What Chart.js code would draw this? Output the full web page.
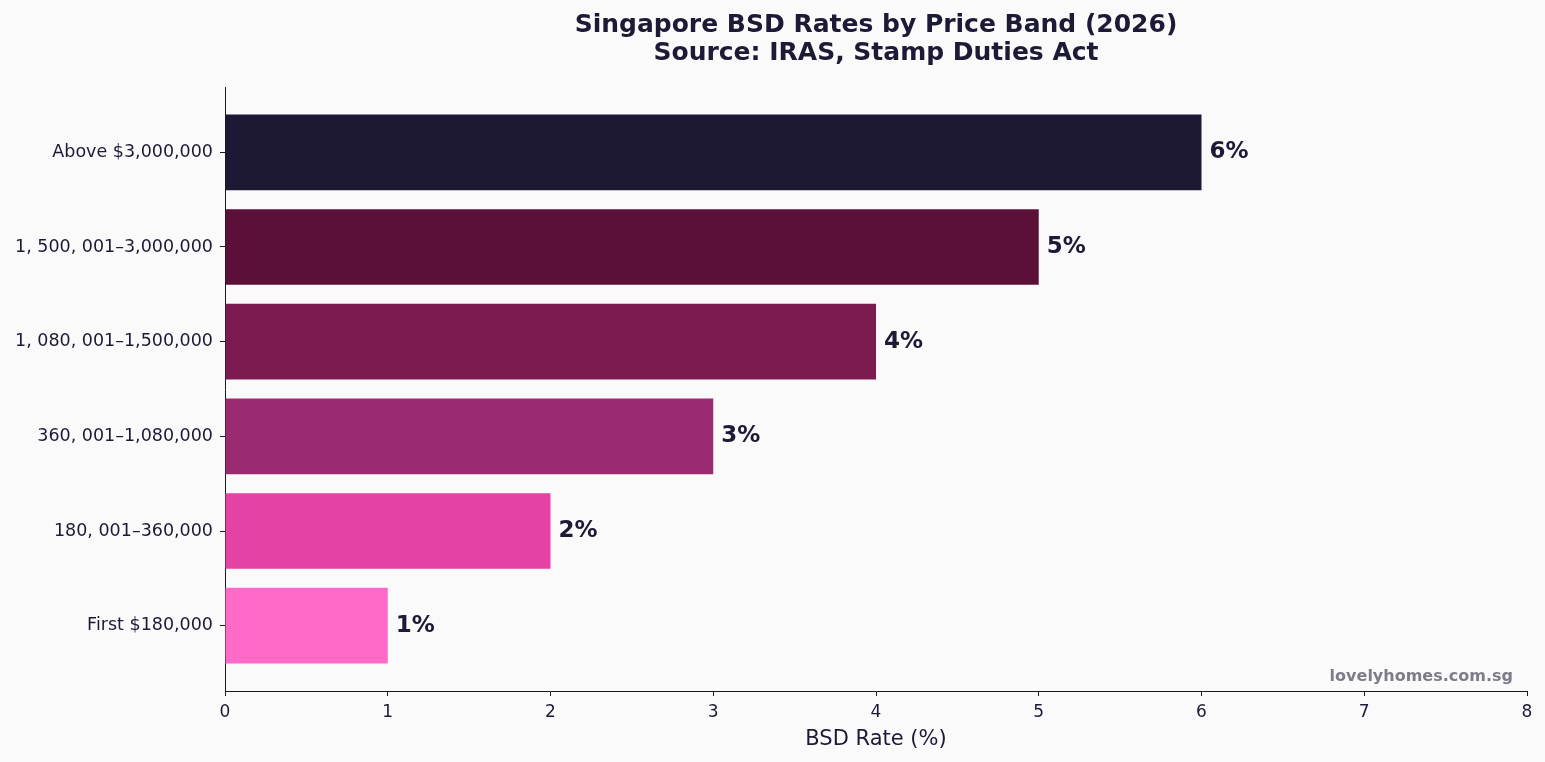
<!DOCTYPE html>
<html>
<head>
<meta charset="utf-8">
<script src="https://cdn.jsdelivr.net/npm/chart.js@4/dist/chart.umd.min.js"></script>
<style>
  html, body { margin: 0; padding: 0; background: #fafafa; }
  #wrap { width: 1545px; height: 762px; }
</style>
</head>
<body>
<div id="wrap"><canvas id="chart"></canvas></div>
<script>
// bands from bottom to top
const bands = [
    'First $180,000',
    '180, 001–360,000',
    '360, 001–1,080,000',
    '1, 080, 001–1,500,000',
    '1, 500, 001–3,000,000',
    'Above $3,000,000',
];
const rates = [1, 2, 3, 4, 5, 6];
const barColors = ['#ff69c8', '#e542a5', '#9b2b70', '#7b1b50', '#5c1039', '#1d1934'];

const ink = '#1c1a35';
const font = "'DejaVu Sans', sans-serif";

const valueLabels = {
    id: 'valueLabels',
    afterDatasetsDraw(chart) {
        const ctx = chart.ctx;
        const meta = chart.getDatasetMeta(0);
        ctx.save();
        ctx.font = 'bold 23px ' + font;
        ctx.fillStyle = ink;
        ctx.textAlign = 'left';
        ctx.textBaseline = 'middle';
        meta.data.forEach((bar, i) => {
            ctx.fillText(rates[i] + '%', bar.x + 8, bar.y);
        });
        // watermark
        const a = chart.chartArea;
        ctx.font = 'bold 16px ' + font;
        ctx.fillStyle = '#7d7d8a';
        ctx.textAlign = 'right';
        ctx.fillText('lovelyhomes.com.sg', a.right - 14, a.bottom - 14);
        ctx.restore();
    },
};

new Chart(document.getElementById('chart'), {
    type: 'bar',
    data: {
        datasets: [{
            data: rates.map((r, i) => ({ x: r, y: i })),
            backgroundColor: barColors,
            borderWidth: 0,
            barPercentage: 0.8,
            categoryPercentage: 1,
        }],
    },
    options: {
        indexAxis: 'y',
        responsive: true,
        maintainAspectRatio: false,
        animation: false,
        layout: { padding: { left: 0, right: 18, top: 0, bottom: 0 } },
        plugins: {
            legend: { display: false },
            tooltip: { enabled: false },
            title: {
                display: true,
                fullSize: false,
                text: ['Singapore BSD Rates by Price Band (2026)', 'Source: IRAS, Stamp Duties Act'],
                color: ink,
                font: { family: font, size: 25, weight: 'bold', lineHeight: 1.12 },
                padding: { top: 11, bottom: 20 },
            },
        },
        scales: {
            x: {
                type: 'linear',
                min: 0,
                max: 8,
                ticks: { stepSize: 1, color: ink, font: { family: font, size: 17 }, padding: 6 },
                grid: { drawOnChartArea: false, drawTicks: true, tickLength: 5, tickColor: '#1a1a1a' },
                border: { display: true, color: '#1a1a1a', width: 1 },
                title: {
                    display: true,
                    text: 'BSD Rate (%)',
                    color: ink,
                    font: { family: font, size: 21 },
                    padding: { top: 4, bottom: 10 },
                },
                afterFit(scale) { scale.height = 71; },
            },
            y: {
                type: 'linear',
                min: -0.69,
                max: 5.69,
                offset: false,
                afterBuildTicks(scale) {
                    scale.ticks = bands.map((b, i) => ({ value: i }));
                },
                ticks: {
                    color: ink,
                    font: { family: font, size: 17.5 },
                    padding: 7,
                    callback: (v) => bands[v] || '',
                },
                grid: { offset: false, drawOnChartArea: false, drawTicks: true, tickLength: 5, tickColor: '#1a1a1a' },
                border: { display: true, color: '#1a1a1a', width: 1 },
                afterFit(scale) { scale.width = 225; },
            },
        },
    },
    plugins: [valueLabels],
});
</script>
</body>
</html>
